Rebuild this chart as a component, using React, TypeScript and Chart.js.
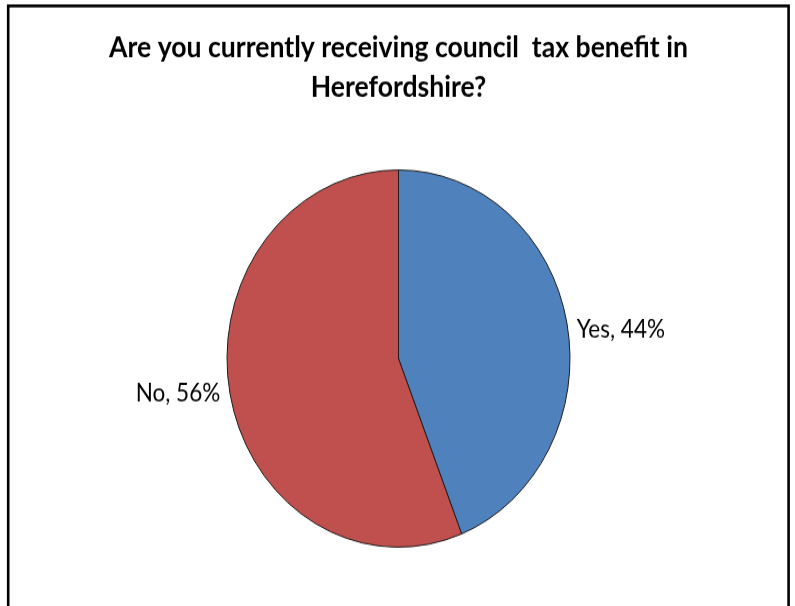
import React, { useEffect, useRef } from "react";
import { Chart, registerables } from "chart.js";

Chart.register(...registerables);

const categories: string[] = ["Yes", "No"];
const percentValues: number[] = [44, 56];
const sliceColors: string[] = ["#4F81BD", "#C0504D"];
const titleLines: string[] = [
  "Are you currently receiving council  tax benefit in",
  "Herefordshire?",
];

const CANVAS_W = 795;
const CANVAS_H = 551; // drawn height, displayed stretched to 606
const DISPLAY_H = 606;
const TITLE_SIZE = 26.6;

const frameAndLabels = {
  id: "frameAndLabels",
  afterDatasetsDraw(chart: any) {
    const ctx = chart.ctx as CanvasRenderingContext2D;
    const meta = chart.getDatasetMeta(0);
    ctx.save();
    ctx.font = "22.5px Lato";
    ctx.fillStyle = "#000000";
    ctx.textBaseline = "middle";
    meta.data.forEach((arc: any, i: number) => {
      const p = arc.getProps(["x", "y", "startAngle", "endAngle", "outerRadius"], true);
      const mid = (p.startAngle + p.endAngle) / 2;
      const rr = p.outerRadius + 10;
      const px = p.x + Math.cos(mid) * rr;
      const py = p.y + Math.sin(mid) * rr * 0.85 + 3;
      ctx.textAlign = Math.cos(mid) >= 0 ? "left" : "right";
      ctx.fillText(`${categories[i]}, ${percentValues[i]}%`, px, py);
    });
    ctx.restore();
  },
  afterDraw(chart: any) {
    const ctx = chart.ctx as CanvasRenderingContext2D;
    ctx.save();
    ctx.strokeStyle = "#000000";
    ctx.lineWidth = 2.6;
    ctx.beginPath();
    ctx.moveTo(8.2, chart.height + 5);
    ctx.lineTo(8.2, 5.4);
    ctx.lineTo(788.6, 5.4);
    ctx.lineTo(788.6, chart.height + 5);
    ctx.stroke();
    ctx.restore();
  },
};

export default function App() {
  const ref = useRef<HTMLCanvasElement | null>(null);
  useEffect(() => {
    document.body.style.margin = "0";
    document.body.style.background = "#ffffff";
    const canvas = ref.current;
    if (!canvas) return;
    const chart = new Chart(canvas, {
      type: "pie",
      data: {
        labels: categories,
        datasets: [
          {
            data: percentValues,
            backgroundColor: sliceColors,
            borderColor: "#1c1c1c",
            borderWidth: 1,
          },
        ],
      },
      options: {
        responsive: false,
        animation: false,
        devicePixelRatio: 1,
        layout: { padding: { left: 2, right: 0, top: 0, bottom: 53 } },
        plugins: {
          legend: { display: false },
          tooltip: { enabled: false },
          title: {
            display: true,
            text: titleLines,
            color: "#000000",
            font: { family: "Lato", size: TITLE_SIZE, weight: "bold", lineHeight: 36 / TITLE_SIZE },
            padding: { top: 25.6, bottom: 56.4 },
          },
        },
      },
      plugins: [frameAndLabels],
    });
    return () => chart.destroy();
  }, []);
  return (
    <canvas
      ref={ref}
      width={CANVAS_W}
      height={CANVAS_H}
      style={{
        position: "absolute",
        left: 0,
        top: 0,
        width: `${CANVAS_W}px`,
        height: `${DISPLAY_H}px`,
        display: "block",
      }}
    />
  );
}
